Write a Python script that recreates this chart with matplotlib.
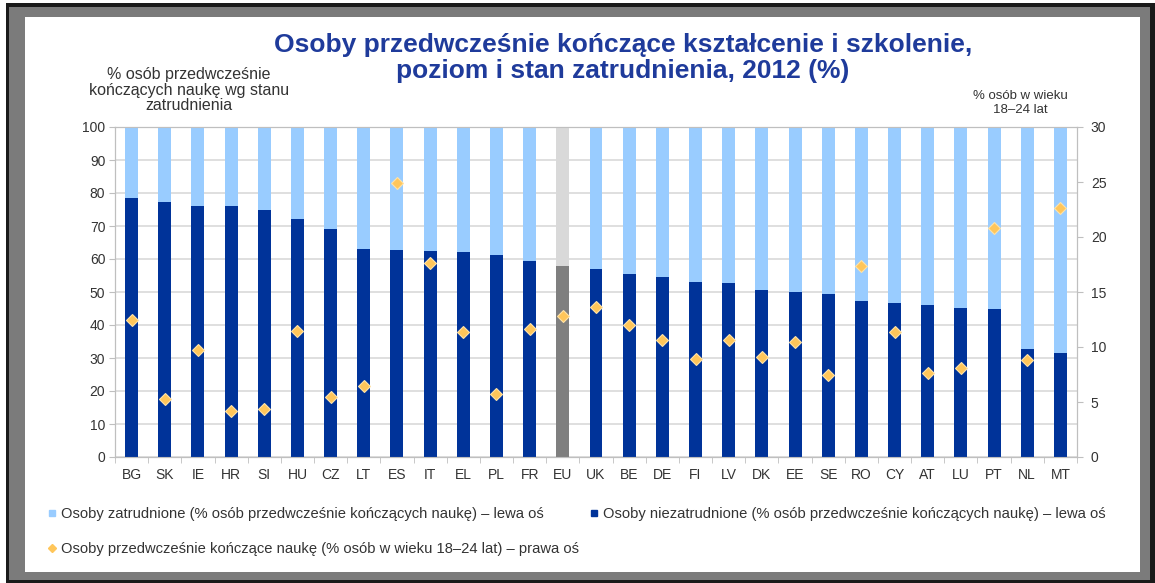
import matplotlib.pyplot as plt
from matplotlib.patches import Rectangle
from matplotlib.lines import Line2D

countries = ["BG", "SK", "IE", "HR", "SI", "HU", "CZ", "LT", "ES", "IT", "EL", "PL", "FR", "EU",
             "UK", "BE", "DE", "FI", "LV", "DK", "EE", "SE", "RO", "CY", "AT", "LU", "PT", "NL", "MT"]
unemployed = [78.6, 77.2, 76.2, 76.2, 75.0, 72.2, 69.0, 63.1, 62.7, 62.4, 62.2, 61.2, 59.4, 57.8,
              57.0, 55.5, 54.6, 53.1, 52.7, 50.5, 49.9, 49.3, 47.2, 46.8, 46.0, 45.1, 44.8, 32.8, 31.4]
employed = [21.4, 22.8, 23.8, 23.8, 25.0, 27.8, 31.0, 36.9, 37.3, 37.6, 37.8, 38.8, 40.6, 42.2,
            43.0, 44.5, 45.4, 46.9, 47.3, 49.5, 50.1, 50.7, 52.8, 53.2, 54.0, 54.9, 55.2, 67.2, 68.6]
early_leavers = [12.5, 5.3, 9.7, 4.2, 4.4, 11.5, 5.5, 6.5, 24.9, 17.6, 11.4, 5.7, 11.6, 12.8,
                 13.6, 12.0, 10.6, 8.9, 10.6, 9.1, 10.5, 7.5, 17.4, 11.4, 7.6, 8.1, 20.8, 8.8, 22.6]

title = "Osoby przedwcześnie kończące kształcenie i szkolenie,\npoziom i stan zatrudnienia, 2012 (%)"
left_label = "% osób przedwcześnie\nkończących naukę wg stanu\nzatrudnienia"
right_label = "% osób w wieku\n18–24 lat"
legend_labels = [
    "Osoby zatrudnione (% osób przedwcześnie kończących naukę) – lewa oś",
    "Osoby niezatrudnione (% osób przedwcześnie kończących naukę) – lewa oś",
    "Osoby przedwcześnie kończące naukę (% osób w wieku 18–24 lat) – prawa oś",
]

LIGHT = "#99ccff"
DARK = "#003399"
EU_DARK = "#7f7f7f"
EU_LIGHT = "#d9d9d9"
ORANGE = "#ffc65a"
TEXT = "#333333"
GRID = "#d9d9d9"
AXIS = "#bfbfbf"

plt.rcParams["font.family"] = ["Liberation Sans", "DejaVu Sans"]

W, H = 1155, 583
fig = plt.figure(figsize=(W / 100, H / 100), dpi=100)
fig.patch.set_facecolor("white")


def px_box(x0, y0, x1, y1):
    # pixel box (top-left origin) -> figure fraction rect
    return (x0 / W, 1 - y1 / H), (x1 - x0) / W, (y1 - y0) / H


for box, col in [((6, 3, 1155, 583), "#1a1a1a"),
                 ((9, 7, 1150, 580), "#7b7b7b"),
                 ((25, 17, 1140, 572), "white")]:
    xy, w, h = px_box(*box)
    fig.add_artist(Rectangle(xy, w, h, transform=fig.transFigure,
                             facecolor=col, edgecolor="none", zorder=0))

ax = fig.add_axes([115 / W, 1 - 457 / H, (1077 - 115) / W, (457 - 127) / H])
ax.set_zorder(1)
ax.patch.set_alpha(0)
x = range(len(countries))
dark_cols = [EU_DARK if c == "EU" else DARK for c in countries]
light_cols = [EU_LIGHT if c == "EU" else LIGHT for c in countries]
ax.bar(x, unemployed, width=0.39, color=dark_cols, zorder=3)
ax.bar(x, employed, width=0.39, bottom=unemployed, color=light_cols, zorder=3)

ax.set_xlim(-0.5, len(countries) - 0.5)
ax.set_ylim(0, 100)
ax.set_yticks(range(0, 101, 10))
ax.yaxis.grid(True, color=GRID, linewidth=1.2, zorder=0)
ax.set_axisbelow(True)
ax.set_xticks(list(x))
ax.set_xticklabels(countries, fontsize=10, color=TEXT)
ax.set_xticks([i - 0.5 for i in range(len(countries) + 1)], minor=True)
ax.tick_params(axis="x", which="major", length=0, pad=8)
ax.tick_params(axis="x", which="minor", length=4, color=AXIS)
ax.tick_params(axis="y", length=4, color=AXIS, labelsize=10, labelcolor=TEXT, pad=3)
for s in ax.spines.values():
    s.set_color(AXIS)

ax2 = ax.twinx()
ax2.plot(list(x), early_leavers, linestyle="none", marker="D", markersize=6.5,
         markerfacecolor=ORANGE, markeredgecolor="#ffe3a8", markeredgewidth=0.8, zorder=5)
ax2.set_ylim(0, 30)
ax2.set_yticks(range(0, 31, 5))
ax2.tick_params(axis="y", length=4, color=AXIS, labelsize=10, labelcolor=TEXT, pad=6)
for s in ax2.spines.values():
    s.set_color(AXIS)

fig.text(623 / W, 1 - 58 / H, title, ha="center", va="center", fontsize=19,
         fontweight="bold", color="#1f3b9b", linespacing=1.15)
fig.text(189 / W, 1 - 90 / H, left_label, ha="center", va="center", fontsize=11.5,
         color=TEXT, linespacing=1.08)
fig.text(1020 / W, 1 - 103 / H, right_label, ha="center", va="center", fontsize=9.5,
         color=TEXT, linespacing=1.3)

handles = [
    Line2D([], [], linestyle="none", marker="s", markersize=5, color=LIGHT),
    Line2D([], [], linestyle="none", marker="D", markersize=4, color=ORANGE),
    Line2D([], [], linestyle="none", marker="s", markersize=5, color=DARK),
]
labels = [legend_labels[0], legend_labels[2], legend_labels[1]]
fig.legend(handles, labels, loc="upper left", bbox_to_anchor=(42 / W, 1 - 501 / H),
           ncol=2, frameon=False, fontsize=10.6, labelcolor=TEXT, handlelength=0.6,
           handletextpad=0.3, labelspacing=1.45, columnspacing=0.7, borderaxespad=0)

fig.savefig("out.png", dpi=100)
